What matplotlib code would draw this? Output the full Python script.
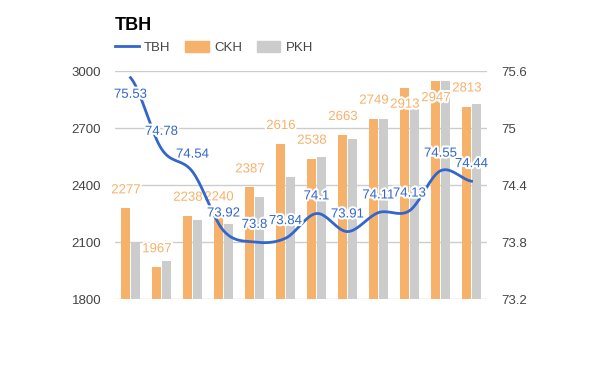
import numpy as np
import matplotlib.pyplot as plt
import matplotlib.patheffects as pe
from matplotlib.patches import Patch
from matplotlib.lines import Line2D

plt.rcParams['font.family'] = ['Liberation Sans', 'DejaVu Sans']

# data
ckh = [2277, 1967, 2238, 2240, 2387, 2616, 2538, 2663, 2749, 2913, 2947, 2813]
pkh = [2100, 1998, 2216, 2195, 2339, 2444, 2545, 2642, 2749, 2812, 2947, 2828]
tbh = [75.53, 74.78, 74.54, 73.92, 73.8, 73.84, 74.1, 73.91, 74.11, 74.13, 74.55, 74.44]

ORANGE = '#f6b26b'
GRAY = '#cccccc'
BLUE = '#3366cc'
TXT = '#444444'


def smooth(xs, ys, n=20):
    # catmull-rom curve through the points, like the "function" curve type
    xs = np.asarray(xs, float)
    ys = np.asarray(ys, float)
    px = np.concatenate([[2 * xs[0] - xs[1]], xs, [2 * xs[-1] - xs[-2]]])
    py = np.concatenate([[ys[0]], ys, [ys[-1]]])
    outx, outy = [], []
    t = np.linspace(0, 1, n, endpoint=False)
    for i in range(1, len(px) - 2):
        for p, out in ((px, outx), (py, outy)):
            p0, p1, p2, p3 = p[i - 1], p[i], p[i + 1], p[i + 2]
            out.extend(0.5 * ((2 * p1) + (-p0 + p2) * t
                              + (2 * p0 - 5 * p1 + 4 * p2 - p3) * t ** 2
                              + (-p0 + 3 * p1 - 3 * p2 + p3) * t ** 3))
    outx.append(xs[-1])
    outy.append(ys[-1])
    return np.array(outx), np.array(outy)


fig = plt.figure(figsize=(6, 3.71), dpi=100)
ax = fig.add_axes([0.1917, 0.194, 0.62, 0.6146])
x = np.arange(len(ckh))
w = 0.29

ax.bar(x - w / 2 - 0.01, ckh, w, color=ORANGE, zorder=2)
ax.bar(x + w / 2 + 0.01, pkh, w, color=GRAY, zorder=2)
ax.set_ylim(1800, 3000)
ax.set_xlim(-0.5, len(ckh) - 0.5)
ax.set_yticks([1800, 2100, 2400, 2700, 3000])
ax.set_xticks([])
ax.grid(axis='y', color='#cccccc', linewidth=1, zorder=0)
for s in ax.spines.values():
    s.set_visible(False)
ax.tick_params(axis='y', length=0, labelsize=9.5, colors=TXT, pad=10)

halo = [pe.withStroke(linewidth=3, foreground='white')]
for xi, v in zip(x, ckh):
    # labels that would run past the top go inside the bar
    if v > 2880:
        ax.text(xi - w / 2, v - 90, str(v), ha='center', va='center', fontsize=9.5,
                color=ORANGE, path_effects=halo, zorder=4)
    else:
        ax.text(xi - w / 2, v + 95, str(v), ha='center', va='center', fontsize=9.5,
                color=ORANGE, path_effects=halo, zorder=4)

ax2 = ax.twinx()
ax2.set_ylim(73.2, 75.6)
ax2.set_yticks([73.2, 73.8, 74.4, 75.0, 75.6])
ax2.set_yticklabels(['73.2', '73.8', '74.4', '75', '75.6'])
for s in ax2.spines.values():
    s.set_visible(False)
ax2.tick_params(axis='y', length=0, labelsize=9.5, colors=TXT, pad=10)
sx, sy = smooth(x, tbh)
ax2.plot(sx, sy, color=BLUE, linewidth=2, zorder=3)
for i, (xi, v) in enumerate(zip(x, tbh)):
    off = -0.18 if i == 0 else 0.18
    ax2.text(xi, v + off, f'{v:g}', ha='center', va='center', fontsize=9.5,
             color=BLUE, path_effects=halo, zorder=5)

fig.text(0.1917, 0.93, 'TBH', fontsize=13, fontweight='bold', va='center')
handles = [Line2D([], [], color=BLUE, linewidth=2),
           Patch(color=ORANGE), Patch(color=GRAY)]
fig.legend(handles, ['TBH', 'CKH', 'PKH'], loc='center left',
           bbox_to_anchor=(0.1917, 0.873), ncol=3, frameon=False, fontsize=9.5,
           handlelength=1.8, handleheight=0.9, columnspacing=1.1,
           handletextpad=0.4, borderpad=0, borderaxespad=0, labelcolor=TXT)

fig.savefig('out.png', dpi=100)
